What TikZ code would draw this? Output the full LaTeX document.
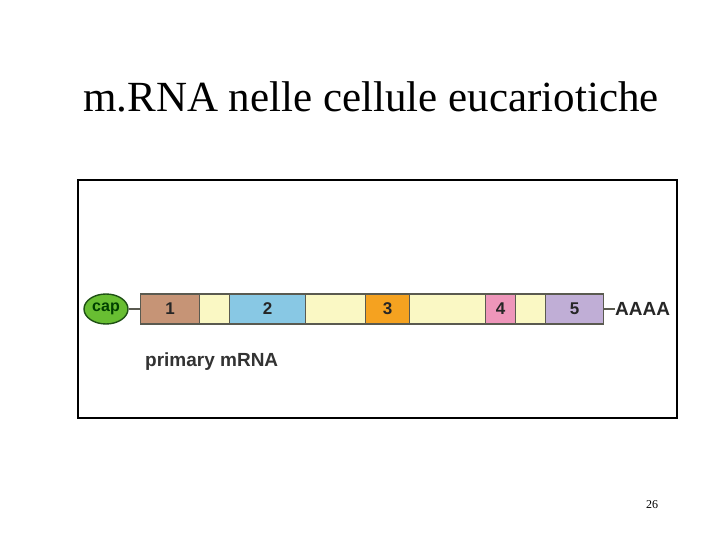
\documentclass[tikz,border=0pt]{standalone}
\usepackage{fontspec}
\usetikzlibrary{shapes.geometric}
\setmainfont{Liberation Serif}
\newfontfamily\arialf{Liberation Sans}
\definecolor{segbrown}{RGB}{198,148,118}
\definecolor{segyellow}{RGB}{250,248,196}
\definecolor{segblue}{RGB}{136,200,228}
\definecolor{segorange}{RGB}{245,162,32}
\definecolor{segpink}{RGB}{238,150,186}
\definecolor{segpurple}{RGB}{192,174,214}
\definecolor{capgreen}{RGB}{104,190,50}
\definecolor{capdark}{RGB}{30,80,20}
\definecolor{segline}{RGB}{90,90,80}
\begin{document}
\begin{tikzpicture}[x=1pt,y=-1pt,
  seg/.style={draw=segline,line width=1.4pt,minimum height=30pt,inner sep=0pt,anchor=west,
    font=\arialf\bfseries\fontsize{17}{17}\selectfont,text=black!85},
  lbl/.style={font=\arialf\bfseries\fontsize{19}{19}\selectfont,text=black!85}]
\useasboundingbox (0,0) rectangle (720,540);
\fill[white] (0,0) rectangle (720,540);
\node[font=\fontsize{43}{43}\selectfont] (title) at (371,97) {m.RNA nelle cellule eucariotiche};
\node[draw=black,line width=2pt,minimum width=599pt,minimum height=238pt,inner sep=0pt] (frame) at (377.5,299) {};
\node[draw=capdark,line width=1.4pt,fill=capgreen,ellipse,minimum width=44pt,minimum height=30pt,inner sep=0pt,
  font=\arialf\bfseries\fontsize{16}{16}\selectfont,text=black!75!green] (cap) at (106,309) {cap};
\node[seg,fill=segbrown,minimum width=59pt] (s1) at (140,309) {1};
\node[seg,fill=segyellow,minimum width=30pt] (i1) at (199,309) {};
\node[seg,fill=segblue,minimum width=76pt] (s2) at (229,309) {2};
\node[seg,fill=segyellow,minimum width=60pt] (i2) at (305,309) {};
\node[seg,fill=segorange,minimum width=44pt] (s3) at (365,309) {3};
\node[seg,fill=segyellow,minimum width=76pt] (i3) at (409,309) {};
\node[seg,fill=segpink,minimum width=30pt] (s4) at (485,309) {4};
\node[seg,fill=segyellow,minimum width=30pt] (i4) at (515,309) {};
\node[seg,fill=segpurple,minimum width=58pt] (s5) at (545,309) {5};
\node[lbl,anchor=west,inner sep=0pt] (polya) at (615,309) {AAAA};
\draw[segline,line width=1.8pt] (cap.east) -- (s1.west);
\draw[segline,line width=1.8pt] (s5.east) -- (polya.west);
\node[lbl,anchor=west,inner sep=0pt,text=black!80] (prim) at (145,362) {primary mRNA};
\node[font=\fontsize{12}{12}\selectfont] (num) at (652,505) {26};
\end{tikzpicture}
\end{document}
